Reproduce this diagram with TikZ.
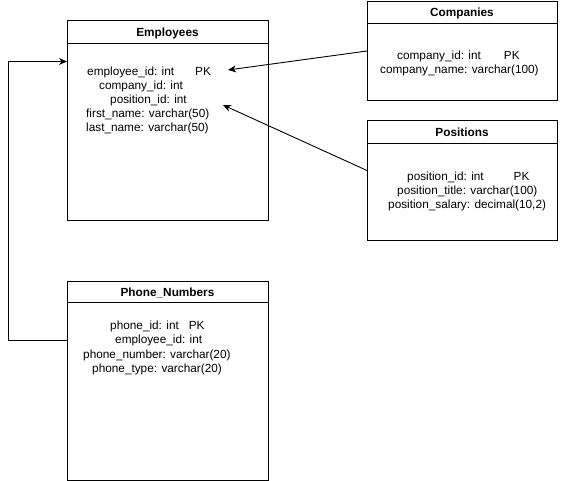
\documentclass[tikz,border=0pt]{standalone}
\usepackage{fontspec}
\setmainfont{Liberation Sans}
\usetikzlibrary{arrows.meta}
\begin{document}
\begin{tikzpicture}[x=1pt,y=-1pt]
	\tikzstyle{boite}=[draw,line width=1pt,anchor=north west,inner sep=0pt]
	\tikzstyle{titre}=[anchor=base,inner sep=0pt,font=\bfseries\fontsize{11.8}{14}\selectfont]
	\tikzstyle{champ}=[anchor=base west,inner sep=0pt,font=\fontsize{11.8}{14}\selectfont]
	\tikzstyle{fleche}=[-{Stealth[length=8pt,width=7pt,inset=2.5pt]},line width=0.9pt]
	\tikzstyle{trait}=[line width=1pt]
	
	\useasboundingbox (0,0) rectangle (568,481);
	
	% tables
	\node[boite,minimum width=201pt,minimum height=200pt] (E) at (67,20) {};
	\node[boite,minimum width=190pt,minimum height=99pt] (C) at (367,1) {};
	\node[boite,minimum width=190pt,minimum height=120pt] (P) at (367,120) {};
	\node[boite,minimum width=201pt,minimum height=199pt] (T) at (67,281) {};
	
	\draw[trait] ([yshift=-24pt]E.north west) -- ([yshift=-24pt]E.north east);
	\draw[trait] ([yshift=-23pt]C.north west) -- ([yshift=-23pt]C.north east);
	\draw[trait] ([yshift=-24pt]P.north west) -- ([yshift=-24pt]P.north east);
	\draw[trait] ([yshift=-22pt]T.north west) -- ([yshift=-22pt]T.north east);
	
	\node[titre] (Et) at (167.5,37) {Employees};
	\node[titre] (Ct) at (462,17) {Companies};
	\node[titre] (Pt) at (462,137) {Positions};
	\node[titre] (Tt) at (167.5,297) {Phone\_Numbers};
	
	% champs
	\node[champ] (Ea) at (87,76) {employee\_id: int\hspace{21pt}PK};
	\node[champ] (Eb) at (99,90) {company\_id: int};
	\node[champ] (Ec) at (110,104) {position\_id: int};
	\node[champ] (Ed) at (86,118) {first\_name: varchar(50)};
	\node[champ] (Ee) at (86,132) {last\_name: varchar(50)};
	
	\node[champ] (Ca) at (397,60) {company\_id: int\hspace{23pt}PK};
	\node[champ] (Cb) at (380,74) {company\_name: varchar(100)};
	
	\node[champ] (Pa) at (407,181) {position\_id: int\hspace{30pt}PK};
	\node[champ] (Pb) at (397,195) {position\_title: varchar(100)};
	\node[champ] (Pc) at (388,209) {position\_salary: decimal(10,2)};
	
	\node[champ] (Ta) at (110,330) {phone\_id: int\hspace{10pt}PK};
	\node[champ] (Tb) at (115,344) {employee\_id: int};
	\node[champ] (Tc) at (83,358) {phone\_number: varchar(20)};
	\node[champ] (Td) at (92,372) {phone\_type: varchar(20)};
	
	% liens
	\coordinate (ptC) at (228,70);
	\coordinate (ptP) at (223,105);
	\draw[fleche] (C.west) -- (ptC);
	\draw[fleche] ([yshift=10pt]P.west) -- (ptP);
	\draw[fleche] ([yshift=40.5pt]T.west) -- ++(-59,0) |- ([yshift=59pt]E.west);
\end{tikzpicture}
\end{document}
